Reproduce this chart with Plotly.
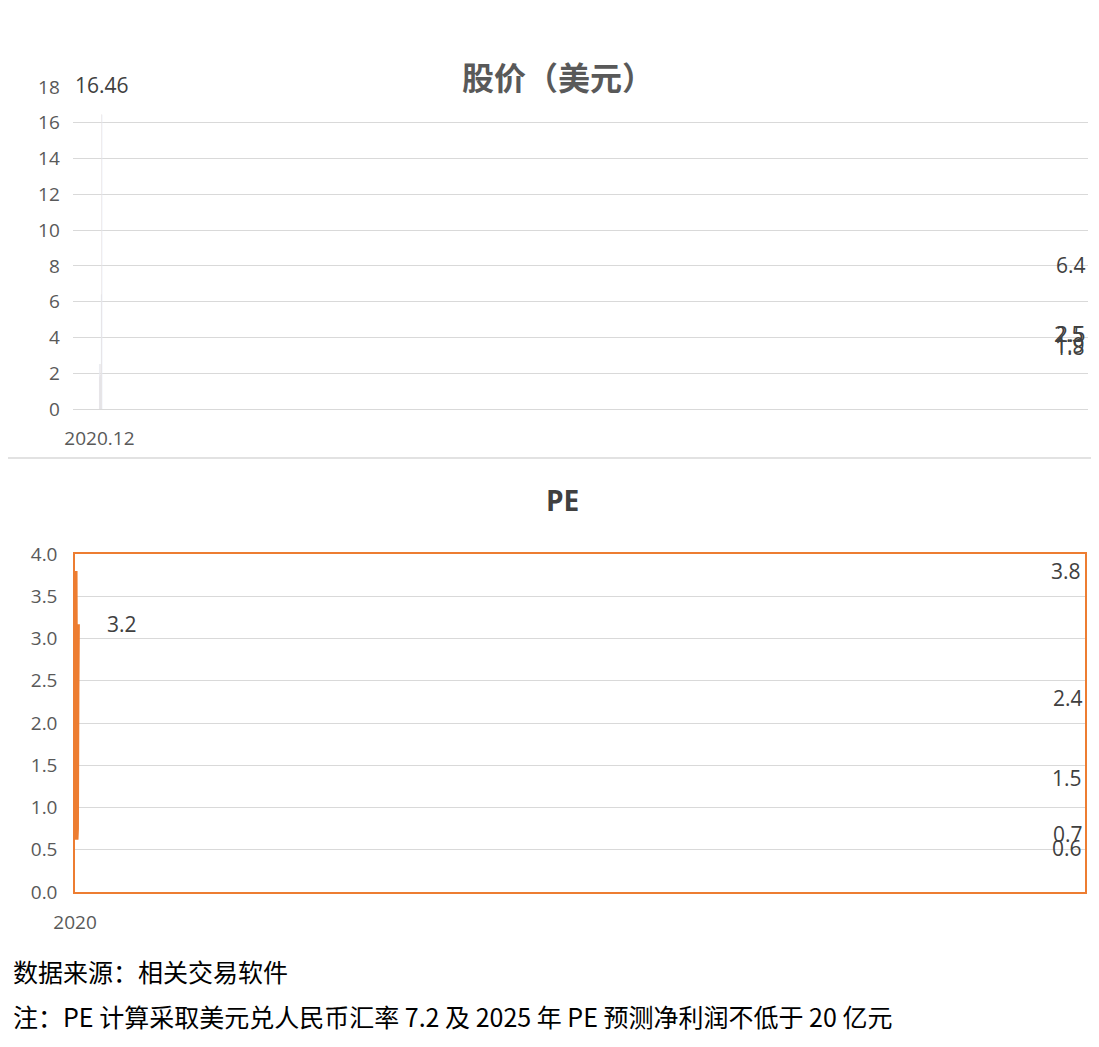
import plotly.graph_objects as go

price_dates = ["2020.12", "2021.12", "2022.12", "2023.12", "2024.12", "2025.06.05"]
price_vals = [2.5, 1.8, 1.9, 2.5, 6.4, 16.46]
price_text = ["2.5", "1.8", "1.9", "2.5", "6.4", "16.46"]

pe_years = ["2020", "2021", "2022", "2023", "2024", "2025(预测）"]
pe_vals = [3.8, 1.47, 0.62, 0.75, 2.36, 3.17]
pe_text = ["3.8", "1.5", "0.6", "0.7", "2.4", "3.2"]

orange = "#ED7D31"
grey = "#595959"
font = "Open Sans, Noto Sans CJK SC"

fig = go.Figure()
fig.add_trace(go.Bar(x=price_dates, y=price_vals, marker_color=orange, width=0.28,
                     xaxis="x", yaxis="y"))
# bar labels a bit above each bar
for x, y, t in zip(price_dates, price_vals, price_text):
    fig.add_annotation(x=x, y=y, text=t, xref="x", yref="y", showarrow=False,
                       yshift=30, font=dict(size=21, color="#404040"))
fig.add_trace(go.Scatter(x=pe_years, y=pe_vals, mode="lines",
                         line=dict(color=orange, width=5),
                         xaxis="x2", yaxis="y2"))

# PE labels sit to the right of each point
offsets = [(45, 0), (45, -10), (45, -8), (45, -5), (45, -5), (45, 0)]
for x, y, t, (dx, dy) in zip(pe_years, pe_vals, pe_text, offsets):
    fig.add_annotation(x=x, y=y, text=t, xref="x2", yref="y2", showarrow=False,
                       xshift=dx, yshift=dy, font=dict(size=21, color="#404040"))

fig.update_layout(
    width=1099, height=1047, margin=dict(l=0, r=0, t=0, b=0),
    paper_bgcolor="white", plot_bgcolor="white", showlegend=False,
    font=dict(family=font, color=grey),
    bargap=0.7,
    xaxis=dict(domain=[0.059, 0.983], anchor="y", type="category", automargin=False,
               showline=True, linecolor="#D9D9D9", ticklabelstandoff=12,
               tickfont=dict(size=19, color=grey), ticks=""),
    yaxis=dict(domain=[0.617, 0.9245], anchor="x", range=[0, 18], dtick=2, automargin=False,
               gridcolor="#D9D9D9", tickfont=dict(size=19, color=grey), zeroline=False,
               ticklabelstandoff=12),
    xaxis2=dict(domain=[0.061, 0.98], anchor="y2", type="category", automargin=False,
                showline=True, mirror=True, ticklabelstandoff=12,
                linecolor=orange, linewidth=1.5, tickfont=dict(size=19, color=grey)),
    yaxis2=dict(domain=[0.1557, 0.4785], anchor="x2", range=[0, 4], dtick=0.5, automargin=False,
                tickformat=".1f", showline=True, mirror=True, linecolor=orange,
                linewidth=1.5, gridcolor="#D9D9D9", tickfont=dict(size=19, color=grey),
                zeroline=False, ticklabelstandoff=12),
)

fig.add_annotation(text="<b>股价（美元）</b>", xref="paper", yref="paper", x=0.5, y=1 - 43 / 1047,
                   showarrow=False, font=dict(size=32, color=grey, family="Noto Sans CJK SC"))
fig.add_annotation(text="<b>PE</b>", xref="paper", yref="paper", x=0.505, y=1 - 492 / 1047,
                   showarrow=False, font=dict(size=28, color="#404040"))
fig.add_shape(type="line", xref="paper", yref="paper", x0=0, x1=1,
              y0=1 - 450 / 1047, y1=1 - 450 / 1047, line=dict(color="#D9D9D9", width=1.5))
fig.add_annotation(text="数据来源：相关交易软件", xref="paper", yref="paper", x=0.003,
                   y=1 - 983 / 1047, xanchor="left", showarrow=False,
                   font=dict(size=25, color="black", family="Noto Sans CJK SC"))
fig.add_annotation(text="注：PE 计算采取美元兑人民币汇率 7.2 及 2025 年 PE 预测净利润不低于 20 亿元",
                   xref="paper", yref="paper", x=0.003, y=1 - 1028 / 1047, xanchor="left",
                   showarrow=False, font=dict(size=25, color="black", family="Noto Sans CJK SC"))

fig.write_html("out.html")
